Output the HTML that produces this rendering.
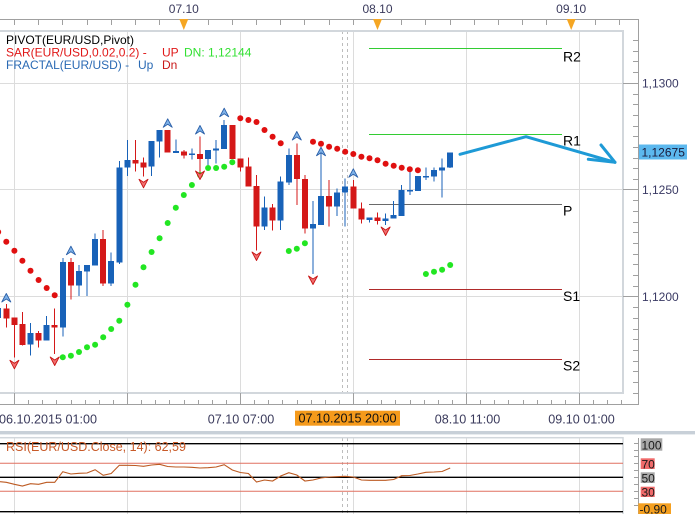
<!DOCTYPE html>
<html>
<head>
<meta charset="utf-8">
<style>
html,body{margin:0;padding:0;background:#fff;overflow:hidden;width:695px;height:514px;}
svg{display:block;}
text{font-family:"Liberation Sans",Arial,sans-serif;}
</style>
</head>
<body>
<svg width="695" height="514" viewBox="0 0 695 514" xmlns="http://www.w3.org/2000/svg">
<rect x="0" y="0" width="695" height="514" fill="#ffffff"/>

<!-- ===== main grid ===== -->
<g stroke="#dcdcdc" stroke-width="1" shape-rendering="crispEdges">
  <line x1="14.5" y1="31" x2="14.5" y2="393"/>
  <line x1="127.5" y1="31" x2="127.5" y2="393"/>
  <line x1="240.5" y1="31" x2="240.5" y2="393"/>
  <line x1="353.5" y1="31" x2="353.5" y2="393"/>
  <line x1="466.5" y1="31" x2="466.5" y2="393"/>
  <line x1="579.5" y1="31" x2="579.5" y2="393"/>
  <line x1="0" y1="83.5" x2="623" y2="83.5"/>
  <line x1="0" y1="189.5" x2="623" y2="189.5"/>
  <line x1="0" y1="296.5" x2="623" y2="296.5"/>
</g>
<g stroke="#bdbdbd" stroke-width="1" stroke-dasharray="3,3" shape-rendering="crispEdges">
  <line x1="342.5" y1="31" x2="342.5" y2="393"/>
  <line x1="347.5" y1="31" x2="347.5" y2="393"/>
</g>

<!-- frame -->
<rect x="-5" y="31" width="628" height="362" fill="none" stroke="#d2d7dc" stroke-width="2"/>

<!-- ===== top time axis ===== -->
<g stroke="#a0a0a0" stroke-width="1" shape-rendering="crispEdges">
  <line x1="0" y1="19.5" x2="638" y2="19.5"/>
  <line x1="14.5" y1="19" x2="14.5" y2="25"/><line x1="38.5" y1="19" x2="38.5" y2="25"/>
  <line x1="62.5" y1="19" x2="62.5" y2="25"/><line x1="87.5" y1="19" x2="87.5" y2="25"/>
  <line x1="111.5" y1="19" x2="111.5" y2="25"/><line x1="135.5" y1="19" x2="135.5" y2="25"/>
  <line x1="159.5" y1="19" x2="159.5" y2="25"/><line x1="183.5" y1="19" x2="183.5" y2="25"/>
  <line x1="208.5" y1="19" x2="208.5" y2="25"/><line x1="232.5" y1="19" x2="232.5" y2="25"/>
  <line x1="256.5" y1="19" x2="256.5" y2="25"/><line x1="280.5" y1="19" x2="280.5" y2="25"/>
  <line x1="304.5" y1="19" x2="304.5" y2="25"/><line x1="329.5" y1="19" x2="329.5" y2="25"/>
  <line x1="353.5" y1="19" x2="353.5" y2="25"/><line x1="377.5" y1="19" x2="377.5" y2="25"/>
  <line x1="401.5" y1="19" x2="401.5" y2="25"/><line x1="425.5" y1="19" x2="425.5" y2="25"/>
  <line x1="450.5" y1="19" x2="450.5" y2="25"/><line x1="474.5" y1="19" x2="474.5" y2="25"/>
  <line x1="498.5" y1="19" x2="498.5" y2="25"/><line x1="522.5" y1="19" x2="522.5" y2="25"/>
  <line x1="546.5" y1="19" x2="546.5" y2="25"/><line x1="571.5" y1="19" x2="571.5" y2="25"/>
  <line x1="595.5" y1="19" x2="595.5" y2="25"/><line x1="619.5" y1="19" x2="619.5" y2="25"/>
</g>
<g fill="#f5a623">
  <polygon points="179.3,19 188.3,19 183.8,30"/>
  <polygon points="373,19 382,19 377.5,30"/>
  <polygon points="566.7,19 575.7,19 571.2,30"/>
</g>
<g font-size="12" fill="#3a3a5c" text-anchor="middle">
  <text x="183.8" y="13">07.10</text>
  <text x="377.5" y="13">08.10</text>
  <text x="571.2" y="13">09.10</text>
</g>

<!-- ===== right price axis ===== -->
<g stroke="#a0a0a0" stroke-width="1" shape-rendering="crispEdges">
  <line x1="638.5" y1="19" x2="638.5" y2="405"/>
  <line x1="623" y1="83.5" x2="638" y2="83.5"/>
  <line x1="623" y1="189.5" x2="638" y2="189.5"/>
  <line x1="623" y1="296.5" x2="638" y2="296.5"/>
  <line x1="633" y1="40.5" x2="638" y2="40.5"/><line x1="633" y1="51.5" x2="638" y2="51.5"/>
  <line x1="633" y1="61.5" x2="638" y2="61.5"/><line x1="633" y1="72.5" x2="638" y2="72.5"/>
  <line x1="633" y1="94.5" x2="638" y2="94.5"/><line x1="633" y1="104.5" x2="638" y2="104.5"/>
  <line x1="633" y1="115.5" x2="638" y2="115.5"/><line x1="633" y1="126.5" x2="638" y2="126.5"/>
  <line x1="633" y1="136.5" x2="638" y2="136.5"/><line x1="633" y1="147.5" x2="638" y2="147.5"/>
  <line x1="633" y1="158.5" x2="638" y2="158.5"/><line x1="633" y1="168.5" x2="638" y2="168.5"/>
  <line x1="633" y1="179.5" x2="638" y2="179.5"/><line x1="633" y1="200.5" x2="638" y2="200.5"/>
  <line x1="633" y1="211.5" x2="638" y2="211.5"/><line x1="633" y1="222.5" x2="638" y2="222.5"/>
  <line x1="633" y1="232.5" x2="638" y2="232.5"/><line x1="633" y1="243.5" x2="638" y2="243.5"/>
  <line x1="633" y1="254.5" x2="638" y2="254.5"/><line x1="633" y1="264.5" x2="638" y2="264.5"/>
  <line x1="633" y1="275.5" x2="638" y2="275.5"/><line x1="633" y1="286.5" x2="638" y2="286.5"/>
  <line x1="633" y1="307.5" x2="638" y2="307.5"/><line x1="633" y1="318.5" x2="638" y2="318.5"/>
  <line x1="633" y1="329.5" x2="638" y2="329.5"/><line x1="633" y1="339.5" x2="638" y2="339.5"/>
  <line x1="633" y1="350.5" x2="638" y2="350.5"/><line x1="633" y1="361.5" x2="638" y2="361.5"/>
  <line x1="633" y1="371.5" x2="638" y2="371.5"/><line x1="633" y1="382.5" x2="638" y2="382.5"/>
  <line x1="633" y1="393.5" x2="638" y2="393.5"/>
</g>
<g font-size="12" fill="#3a3a64">
  <text x="642" y="87.5">1,1300</text>
  <text x="642" y="194">1,1250</text>
  <text x="642" y="301">1,1200</text>
</g>
<rect x="639" y="144.5" width="48" height="15" fill="#5cb8ee"/>
<text x="641.5" y="156.5" font-size="12" fill="#1a1a3a">1,12675</text>

<!-- ===== bottom time axis ===== -->
<g stroke="#a0a0a0" stroke-width="1" shape-rendering="crispEdges">
  <line x1="0" y1="404.5" x2="638" y2="404.5"/>
  <line x1="14.5" y1="393" x2="14.5" y2="405"/>
  <line x1="127.5" y1="393" x2="127.5" y2="405"/>
  <line x1="240.5" y1="393" x2="240.5" y2="405"/>
  <line x1="353.5" y1="393" x2="353.5" y2="405"/>
  <line x1="466.5" y1="393" x2="466.5" y2="405"/>
  <line x1="579.5" y1="393" x2="579.5" y2="405"/>
  <line x1="28.5" y1="400" x2="28.5" y2="405"/><line x1="42.5" y1="400" x2="42.5" y2="405"/>
  <line x1="56.5" y1="400" x2="56.5" y2="405"/><line x1="71.5" y1="400" x2="71.5" y2="405"/>
  <line x1="85.5" y1="400" x2="85.5" y2="405"/><line x1="99.5" y1="400" x2="99.5" y2="405"/>
  <line x1="113.5" y1="400" x2="113.5" y2="405"/>
  <line x1="141.5" y1="400" x2="141.5" y2="405"/><line x1="155.5" y1="400" x2="155.5" y2="405"/>
  <line x1="169.5" y1="400" x2="169.5" y2="405"/><line x1="184.5" y1="400" x2="184.5" y2="405"/>
  <line x1="198.5" y1="400" x2="198.5" y2="405"/><line x1="212.5" y1="400" x2="212.5" y2="405"/>
  <line x1="226.5" y1="400" x2="226.5" y2="405"/>
  <line x1="254.5" y1="400" x2="254.5" y2="405"/><line x1="268.5" y1="400" x2="268.5" y2="405"/>
  <line x1="282.5" y1="400" x2="282.5" y2="405"/><line x1="297.5" y1="400" x2="297.5" y2="405"/>
  <line x1="311.5" y1="400" x2="311.5" y2="405"/><line x1="325.5" y1="400" x2="325.5" y2="405"/>
  <line x1="339.5" y1="400" x2="339.5" y2="405"/>
  <line x1="367.5" y1="400" x2="367.5" y2="405"/><line x1="381.5" y1="400" x2="381.5" y2="405"/>
  <line x1="395.5" y1="400" x2="395.5" y2="405"/><line x1="410.5" y1="400" x2="410.5" y2="405"/>
  <line x1="424.5" y1="400" x2="424.5" y2="405"/><line x1="438.5" y1="400" x2="438.5" y2="405"/>
  <line x1="452.5" y1="400" x2="452.5" y2="405"/>
  <line x1="480.5" y1="400" x2="480.5" y2="405"/><line x1="494.5" y1="400" x2="494.5" y2="405"/>
  <line x1="508.5" y1="400" x2="508.5" y2="405"/><line x1="523.5" y1="400" x2="523.5" y2="405"/>
  <line x1="537.5" y1="400" x2="537.5" y2="405"/><line x1="551.5" y1="400" x2="551.5" y2="405"/>
  <line x1="565.5" y1="400" x2="565.5" y2="405"/>
  <line x1="593.5" y1="400" x2="593.5" y2="405"/><line x1="607.5" y1="400" x2="607.5" y2="405"/>
  <line x1="621.5" y1="400" x2="621.5" y2="405"/>
</g>
<g font-size="12.6" fill="#3a3a5c">
  <text x="-1" y="423.5">06.10.2015 01:00</text>
  <text x="241" y="423.5" text-anchor="middle">07.10 07:00</text>
  <text x="467.5" y="423.5" text-anchor="middle">08.10 11:00</text>
  <text x="581.5" y="423.5" text-anchor="middle">09.10 01:00</text>
</g>
<rect x="295" y="410.7" width="105" height="15" fill="#f59a1b"/>
<text x="347.5" y="422.5" font-size="12.6" fill="#111" text-anchor="middle">07.10.2015 20:00</text>

<!-- separator -->
<rect x="0" y="431" width="695" height="3.4" fill="#c8d0d8"/>

<!-- ===== pivot lines ===== -->
<g stroke-width="1" shape-rendering="crispEdges">
  <line x1="369" y1="48.5" x2="562" y2="48.5" stroke="#33cc33"/>
  <line x1="369" y1="134.5" x2="562" y2="134.5" stroke="#33cc33"/>
  <line x1="369" y1="204.5" x2="562" y2="204.5" stroke="#6a6a6a"/>
  <line x1="369" y1="289.5" x2="562" y2="289.5" stroke="#b02a2a"/>
  <line x1="369" y1="359.5" x2="562" y2="359.5" stroke="#b02a2a"/>
</g>
<g font-size="14" fill="#000">
  <text x="563" y="61.5">R2</text>
  <text x="563" y="145.5">R1</text>
  <text x="563" y="215.5">P</text>
  <text x="563" y="301">S1</text>
  <text x="563" y="370.5">S2</text>
</g>

<!-- ===== candles ===== -->
<g fill="#1862b8" shape-rendering="crispEdges">
  <rect x="-5" y="308" width="6" height="10"/><rect x="-2.5" y="305" width="1" height="15"/>
  <rect x="27.5" y="333" width="6" height="11.7"/><rect x="30" y="323" width="1" height="32.7"/>
  <rect x="43.7" y="325" width="6" height="15.7"/><rect x="46.2" y="316" width="1" height="24.7"/>
  <rect x="59.8" y="262" width="6" height="65.7"/><rect x="62.3" y="258" width="1" height="78.7"/>
  <rect x="76" y="271" width="6" height="14.7"/><rect x="78.5" y="265" width="1" height="31"/>
  <rect x="84" y="265" width="6" height="6.7"/><rect x="86.5" y="265" width="1" height="31"/>
  <rect x="92.1" y="239" width="6" height="26.7"/><rect x="94.6" y="233.7" width="1" height="32"/>
  <rect x="108.2" y="261" width="6" height="22.3"/><rect x="110.7" y="252.7" width="1" height="33.3"/>
  <rect x="116.3" y="167.3" width="6" height="95"/><rect x="118.8" y="161" width="1" height="103"/>
  <rect x="124.4" y="160" width="6" height="7.3"/><rect x="126.9" y="140" width="1" height="36"/>
  <rect x="148.6" y="141" width="6" height="25.7"/><rect x="151.1" y="141" width="1" height="35"/>
  <rect x="156.6" y="130" width="6" height="11.7"/><rect x="159.1" y="130" width="1" height="27.3"/>
  <rect x="172.8" y="151" width="6" height="2"/><rect x="175.3" y="139.3" width="1" height="13.7"/>
  <rect x="188.9" y="153.3" width="6" height="1.7"/><rect x="191.4" y="148.3" width="1" height="11"/>
  <rect x="205.1" y="150" width="6" height="9"/><rect x="207.6" y="150" width="1" height="15"/>
  <rect x="213.1" y="148.3" width="6" height="2.4"/><rect x="215.6" y="140" width="1" height="23.3"/>
  <rect x="221.2" y="125" width="6" height="24"/><rect x="223.7" y="120" width="1" height="29"/>
  <rect x="261.5" y="207.7" width="6" height="19"/><rect x="264" y="196.7" width="1" height="33.3"/>
  <rect x="277.7" y="181.7" width="6" height="39"/><rect x="280.2" y="176.7" width="1" height="53.3"/>
  <rect x="285.8" y="155" width="6" height="27.7"/><rect x="288.3" y="148.3" width="1" height="36.7"/>
  <rect x="310" y="224" width="6" height="4.3"/><rect x="312.5" y="201" width="1" height="73"/>
  <rect x="318" y="196" width="6" height="29"/><rect x="320.5" y="150" width="1" height="75"/>
  <rect x="334.2" y="192.3" width="6" height="14.4"/><rect x="336.7" y="188.3" width="1" height="27.7"/>
  <rect x="342.2" y="186.7" width="6" height="6"/><rect x="344.7" y="178.3" width="1" height="48.4"/>
  <rect x="366.5" y="217.3" width="6" height="2.7"/><rect x="369" y="217.3" width="1" height="5.4"/>
  <rect x="382.6" y="218.3" width="6" height="2.7"/><rect x="385.1" y="213.3" width="1" height="11.7"/>
  <rect x="390.7" y="215" width="6" height="3.7"/><rect x="393.2" y="201" width="1" height="17.7"/>
  <rect x="398.7" y="190" width="6" height="26"/><rect x="401.2" y="185" width="1" height="31"/>
  <rect x="406.8" y="190" width="6" height="1.5"/><rect x="409.3" y="169.3" width="1" height="25.7"/>
  <rect x="414.9" y="176" width="6" height="15"/><rect x="417.4" y="176" width="1" height="15"/>
  <rect x="422.9" y="176" width="6" height="1.5"/><rect x="425.4" y="167.3" width="1" height="12.7"/>
  <rect x="431" y="170" width="6" height="6.7"/><rect x="433.5" y="167.3" width="1" height="14.4"/>
  <rect x="439.1" y="167.3" width="6" height="3.4"/><rect x="441.6" y="158.3" width="1" height="39.4"/>
  <rect x="447.2" y="152.3" width="6" height="15"/><rect x="449.7" y="152.3" width="1" height="15.7"/>
</g>
<g fill="#d41818" shape-rendering="crispEdges">
  <rect x="3.3" y="308.3" width="6" height="10"/><rect x="5.8" y="304" width="1" height="23.7"/>
  <rect x="11.4" y="317.7" width="6" height="7.3"/><rect x="13.9" y="317.7" width="1" height="39.6"/>
  <rect x="19.4" y="324" width="6" height="21"/><rect x="21.9" y="312" width="1" height="33.7"/>
  <rect x="35.6" y="333" width="6" height="7.3"/><rect x="38.1" y="331" width="1" height="16.7"/>
  <rect x="51.7" y="325" width="6" height="2.7"/><rect x="54.2" y="308.7" width="1" height="45.3"/>
  <rect x="67.9" y="262" width="6" height="23.7"/><rect x="70.4" y="258" width="1" height="41.3"/>
  <rect x="100.2" y="239" width="6" height="44.3"/><rect x="102.7" y="230" width="1" height="56"/>
  <rect x="132.5" y="160" width="6" height="3.3"/><rect x="135" y="140" width="1" height="31.7"/>
  <rect x="140.5" y="162.7" width="6" height="5"/><rect x="143" y="157.3" width="1" height="19.4"/>
  <rect x="164.7" y="130" width="6" height="22.3"/><rect x="167.2" y="130" width="1" height="22.3"/>
  <rect x="180.8" y="151.7" width="6" height="4"/><rect x="183.3" y="150" width="1" height="8.3"/>
  <rect x="197" y="154" width="6" height="5"/><rect x="199.5" y="136.7" width="1" height="42.3"/>
  <rect x="229.3" y="125" width="6" height="34"/><rect x="231.8" y="125" width="1" height="34"/>
  <rect x="237.3" y="158.3" width="6" height="9.4"/><rect x="239.8" y="158.3" width="1" height="13.4"/>
  <rect x="245.4" y="166.7" width="6" height="20"/><rect x="247.9" y="157.3" width="1" height="29.4"/>
  <rect x="253.5" y="186" width="6" height="40.7"/><rect x="256" y="175" width="1" height="75.7"/>
  <rect x="269.6" y="207.7" width="6" height="13"/><rect x="272.1" y="204" width="1" height="26.7"/>
  <rect x="293.8" y="155" width="6" height="24"/><rect x="296.3" y="143.3" width="1" height="61.7"/>
  <rect x="301.9" y="179" width="6" height="49.3"/><rect x="304.4" y="175" width="1" height="58.3"/>
  <rect x="326.1" y="196" width="6" height="10.7"/><rect x="328.6" y="180" width="1" height="46.7"/>
  <rect x="350.3" y="186.7" width="6" height="21.6"/><rect x="352.8" y="180" width="1" height="28.3"/>
  <rect x="358.4" y="208.3" width="6" height="11"/><rect x="360.9" y="202.3" width="1" height="21"/>
  <rect x="374.5" y="217.3" width="6" height="3.7"/><rect x="377" y="212.7" width="1" height="11.6"/>
</g>

<!-- ===== SAR ===== -->
<g fill="#e01010">
  <circle cx="-1.8" cy="232" r="3"/><circle cx="6.3" cy="241.7" r="3"/><circle cx="14.4" cy="250.7" r="3"/>
  <circle cx="22.4" cy="260.7" r="3"/><circle cx="30.5" cy="270.7" r="3"/><circle cx="38.6" cy="280" r="3"/>
  <circle cx="46.7" cy="288" r="3"/><circle cx="54.7" cy="295.3" r="3"/>
  <circle cx="240.3" cy="118.3" r="3"/><circle cx="248.4" cy="120" r="3"/><circle cx="256.5" cy="122" r="3"/>
  <circle cx="264.5" cy="130" r="3"/><circle cx="272.6" cy="136.7" r="3"/><circle cx="280.7" cy="143.3" r="3"/>
  <circle cx="313" cy="141.7" r="3"/><circle cx="321" cy="143.7" r="3"/><circle cx="329.1" cy="146.7" r="3"/>
  <circle cx="337.2" cy="148.7" r="3"/><circle cx="345.2" cy="151.7" r="3"/><circle cx="353.3" cy="154" r="3"/>
  <circle cx="361.4" cy="156.7" r="3"/><circle cx="369.5" cy="158.3" r="3"/><circle cx="377.5" cy="160.3" r="3"/>
  <circle cx="385.6" cy="163.7" r="3"/><circle cx="393.7" cy="165.7" r="3"/><circle cx="401.7" cy="167.7" r="3"/>
  <circle cx="409.8" cy="169.3" r="3"/><circle cx="417.9" cy="170.3" r="3"/>
</g>
<g fill="#22e622">
  <circle cx="62.8" cy="357.3" r="3"/><circle cx="70.9" cy="355.7" r="3"/><circle cx="79" cy="352" r="3"/>
  <circle cx="87" cy="347.3" r="3"/><circle cx="95.1" cy="344.7" r="3"/><circle cx="103.2" cy="337.3" r="3"/>
  <circle cx="111.2" cy="329" r="3"/><circle cx="119.3" cy="320.7" r="3"/><circle cx="127.4" cy="304.7" r="3"/>
  <circle cx="135.5" cy="284.7" r="3"/><circle cx="143.5" cy="267.3" r="3"/><circle cx="151.6" cy="252" r="3"/>
  <circle cx="159.6" cy="238.3" r="3"/><circle cx="167.7" cy="223" r="3"/><circle cx="175.8" cy="207.7" r="3"/>
  <circle cx="183.8" cy="195" r="3"/><circle cx="191.9" cy="185" r="3"/><circle cx="200" cy="175" r="3"/>
  <circle cx="208.1" cy="168" r="3"/><circle cx="216.1" cy="168" r="3"/><circle cx="224.2" cy="166.7" r="3"/>
  <circle cx="232.3" cy="162.3" r="3"/>
  <circle cx="288.8" cy="251" r="3"/><circle cx="296.8" cy="248.7" r="3"/><circle cx="304.9" cy="243.3" r="3"/>
  <circle cx="425.9" cy="274" r="3"/><circle cx="434" cy="271.7" r="3"/><circle cx="442.1" cy="269.7" r="3"/>
  <circle cx="450.2" cy="265" r="3"/>
</g>

<!-- ===== fractals ===== -->
<g fill="#7fb2e8" stroke="#2a5fa8" stroke-width="0.9" stroke-linejoin="round">
  <path d="M1.8,302 L6.3,293.5 L10.8,302 L6.3,299 Z"/>
  <path d="M66.4,254.7 L70.9,246.2 L75.4,254.7 L70.9,251.7 Z"/>
  <path d="M163.2,127.3 L167.7,118.8 L172.2,127.3 L167.7,124.3 Z"/>
  <path d="M195.5,134 L200,125.5 L204.5,134 L200,131 Z"/>
  <path d="M219.7,116.7 L224.2,108.2 L228.7,116.7 L224.2,113.7 Z"/>
  <path d="M292.3,140 L296.8,131.5 L301.3,140 L296.8,137 Z"/>
  <path d="M316.5,155.7 L321,147.2 L325.5,155.7 L321,152.7 Z"/>
  <path d="M348.8,177.3 L353.3,168.8 L357.8,177.3 L353.3,174.3 Z"/>
</g>
<g fill="#f07070" stroke="#c81414" stroke-width="0.9" stroke-linejoin="round">
  <path d="M9.9,360.3 L14.4,368.8 L18.9,360.3 L14.4,363.3 Z"/>
  <path d="M50.2,357 L54.7,365.5 L59.2,357 L54.7,360 Z"/>
  <path d="M139,179.3 L143.5,187.8 L148,179.3 L143.5,182.3 Z"/>
  <path d="M195.5,171 L200,179.5 L204.5,171 L200,174 Z"/>
  <path d="M252,252 L256.5,260.5 L261,252 L256.5,255 Z"/>
  <path d="M308.5,276 L313,284.5 L317.5,276 L313,279 Z"/>
  <path d="M381.1,227 L385.6,235.5 L390.1,227 L385.6,230 Z"/>
</g>

<!-- ===== blue arrow ===== -->
<g fill="none" stroke="#1e9ad6" stroke-width="3" stroke-linecap="round" stroke-linejoin="round">
  <polyline points="460,154.3 526,136.7 615,162.3"/>
  <polyline points="601,145 615,162.3 588.3,159.3"/>
</g>

<!-- ===== legend ===== -->
<g font-size="12">
  <text x="6" y="44" fill="#000">PIVOT(EUR/USD,Pivot)</text>
  <text x="6" y="56.5" fill="#e01818">SAR(EUR/USD,0.02,0.2) -</text>
  <text x="162" y="56.5" fill="#e01818">UP</text>
  <text x="184" y="56.5" fill="#33e033">DN: 1,12144</text>
  <text x="6" y="69" fill="#2a6ab4">FRACTAL(EUR/USD) -</text>
  <text x="138" y="69" fill="#2a6ab4">Up</text>
  <text x="162" y="69" fill="#c81818">Dn</text>
</g>

<!-- ===== RSI panel ===== -->
<g stroke="#dcdcdc" stroke-width="1" shape-rendering="crispEdges">
  <line x1="14.5" y1="438" x2="14.5" y2="514"/>
  <line x1="127.5" y1="438" x2="127.5" y2="514"/>
  <line x1="240.5" y1="438" x2="240.5" y2="514"/>
  <line x1="353.5" y1="438" x2="353.5" y2="514"/>
  <line x1="466.5" y1="438" x2="466.5" y2="514"/>
  <line x1="579.5" y1="438" x2="579.5" y2="514"/>
</g>
<g stroke="#bdbdbd" stroke-width="1" stroke-dasharray="3,3" shape-rendering="crispEdges">
  <line x1="342.5" y1="438" x2="342.5" y2="514"/>
  <line x1="347.5" y1="438" x2="347.5" y2="514"/>
</g>
<rect x="-5" y="437.7" width="628" height="85" fill="none" stroke="#d2d7dc" stroke-width="1.5"/>
<g stroke-width="1.3">
  <line x1="0" y1="443.7" x2="623" y2="443.7" stroke="#000"/>
  <line x1="0" y1="463.3" x2="623" y2="463.3" stroke="#e07060" stroke-width="1"/>
  <line x1="0" y1="477.3" x2="623" y2="477.3" stroke="#000"/>
  <line x1="0" y1="491.3" x2="623" y2="491.3" stroke="#e07060" stroke-width="1"/>
  <line x1="0" y1="511.7" x2="623" y2="511.7" stroke="#000"/>
</g>
<polyline fill="none" stroke="#bc5a22" stroke-width="1.1" points="0,481.7 6.3,482.3 14.4,484.3 22.4,486 30.5,483.7 38.6,484.3 46.7,482.3 54.7,482.3 62.8,471.7 70.9,474 79,473.3 87,473 95.1,469.7 103.2,475.3 111.2,473.5 119.3,465.3 127.4,465.3 135.5,465.5 143.5,466.3 151.6,465 159.6,464.3 167.7,466.5 175.8,467 183.8,467 191.9,467.3 200,468 208.1,467.7 216.1,467 224.2,464.7 232.3,470 240.3,472.5 248.4,473.5 256.5,482 264.5,480 272.6,481 280.7,476 288.8,472.7 296.8,475 304.9,481 313,480 321,478 329.1,477 337.2,476.7 345.2,476.3 353.3,477 361.4,480 369.5,480.3 377.5,480.3 385.6,480.3 393.7,479.5 401.7,475.7 409.8,475.5 417.9,474 425.9,472.3 434,472 442.1,471.5 450.2,468"/>
<text x="6" y="451" font-size="12.5" fill="#c85a28">RSI(EUR/USD.Close, 14): 62,59</text>

<!-- RSI axis -->
<g stroke="#a0a0a0" stroke-width="1" shape-rendering="crispEdges">
  <line x1="638.5" y1="438" x2="638.5" y2="514"/>
  <line x1="634" y1="443.5" x2="638" y2="443.5"/><line x1="634" y1="450.5" x2="638" y2="450.5"/>
  <line x1="634" y1="456.5" x2="638" y2="456.5"/><line x1="634" y1="463.5" x2="638" y2="463.5"/>
  <line x1="634" y1="470.5" x2="638" y2="470.5"/><line x1="634" y1="477.5" x2="638" y2="477.5"/>
  <line x1="634" y1="484.5" x2="638" y2="484.5"/><line x1="634" y1="491.5" x2="638" y2="491.5"/>
  <line x1="634" y1="498.5" x2="638" y2="498.5"/><line x1="634" y1="505.5" x2="638" y2="505.5"/>
</g>
<rect x="640.7" y="438.3" width="21.6" height="12.4" fill="#a8a8a8"/>
<rect x="640.7" y="458.3" width="14" height="10.7" fill="#f06a6a"/>
<rect x="640.7" y="472.3" width="14" height="10.7" fill="#a8a8a8"/>
<rect x="640.7" y="486.7" width="14" height="10.3" fill="#f06a6a"/>
<rect x="638.3" y="503.3" width="32.7" height="11" fill="#f5a020"/>
<g font-size="12" fill="#1a1a1a">
  <text x="641.5" y="449.5">100</text>
  <text x="641.5" y="468.5">70</text>
  <text x="641.5" y="482.5">50</text>
  <text x="641.5" y="496.5">30</text>
  <text x="639.5" y="513.5">-0,90</text>
</g>
</svg>
</body>
</html>
